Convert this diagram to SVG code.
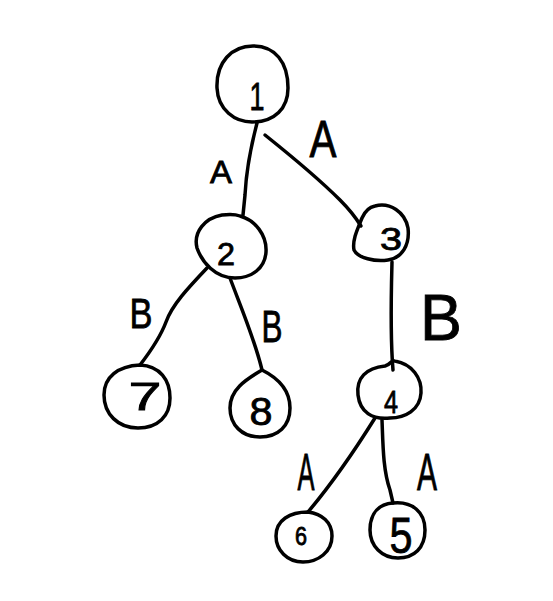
<svg xmlns="http://www.w3.org/2000/svg" width="553" height="601" viewBox="0 0 553 601">
<style>
.s{fill:none;stroke:#000;stroke-width:3.5;stroke-linecap:round;stroke-linejoin:round}
.t{font-family:"Liberation Sans",Arial,sans-serif;fill:#000;text-anchor:middle;stroke:#000;stroke-width:0.8}
</style>
<rect width="553" height="601" fill="#fff"/>
<g id="connectors">
<path class="s" d="M257,123 C250,150 246,175 245,195 L243,215"/>
<path class="s" d="M265,135 C290,155 320,180 340,200 C350,210 356,218 361,226"/>
<path class="s" d="M392,262 C391,300 390,335 393,370"/>
<path class="s" d="M207,268 C188,288 172,305 166,322 C160,338 150,352 140,365"/>
<path class="s" d="M230,278 C240,305 255,340 262,370"/>
<path class="s" d="M375,418 C355,450 335,480 308,512"/>
<path class="s" d="M382,420 C383,445 383,470 390,490 L393,503"/>
<text class="t" x="221" y="183" font-size="32" textLength="22" lengthAdjust="spacingAndGlyphs">A</text>
<text class="t" x="323" y="157" font-size="51" textLength="27" lengthAdjust="spacingAndGlyphs">A</text>
<text class="t" x="141" y="328" font-size="43" textLength="23" lengthAdjust="spacingAndGlyphs">B</text>
<text class="t" x="272" y="342" font-size="44" textLength="21" lengthAdjust="spacingAndGlyphs">B</text>
<text class="t" x="441" y="340" font-size="65" textLength="42" lengthAdjust="spacingAndGlyphs">B</text>
<text class="t" x="306" y="490" font-size="51" textLength="17" lengthAdjust="spacingAndGlyphs">A</text>
<text class="t" x="427" y="490" font-size="51" textLength="20" lengthAdjust="spacingAndGlyphs">A</text>
</g>
<g id="n1"><path class="s" d="M252,122 C235,122 218,110 217,88 C216,62 232,46 253,46 C275,46 288,62 288,88 C288,108 275,122 252,122 Z"/><text class="t" x="257" y="110" font-size="39" textLength="15" lengthAdjust="spacingAndGlyphs">1</text></g>
<g id="n2"><path class="s" d="M240,216 C255,220 267,235 266,252 C265,268 252,278 235,278 C215,278 202,262 197,248 C193,232 205,218 222,215 C230,214 235,214 240,216 Z"/><text class="t" x="226" y="265" font-size="32" textLength="18" lengthAdjust="spacingAndGlyphs">2</text></g>
<g id="n3"><path class="s" d="M375,206 C390,202 405,212 408,228 C410,245 402,258 388,260 C375,262 358,258 354,250 C352,240 358,228 362,218 C365,211 370,207 375,206 Z"/><text class="t" x="391" y="250" font-size="32" textLength="22" lengthAdjust="spacingAndGlyphs">3</text></g>
<g id="n7"><path class="s" d="M140,365 C160,366 170,380 170,398 C170,416 158,428 138,428 C118,428 104,414 104,395 C104,377 118,366 140,365 Z"/><text class="t" x="145" y="410" font-size="39" textLength="33" lengthAdjust="spacingAndGlyphs">7</text></g>
<g id="n8"><path class="s" d="M262,370 C278,378 290,390 290,408 C290,426 278,437 260,437 C242,437 230,425 230,408 C230,390 245,380 262,370 Z"/><text class="t" x="261" y="425" font-size="39" textLength="23" lengthAdjust="spacingAndGlyphs">8</text></g>
<g id="n4"><path class="s" d="M395,361 C412,364 422,378 421,393 C420,410 405,418 390,418 C372,420 360,412 358,395 C356,378 366,368 385,366 C392,364 390,360 395,361 Z"/><text class="t" x="391" y="413" font-size="32" textLength="14" lengthAdjust="spacingAndGlyphs">4</text></g>
<g id="n6"><path class="s" d="M308,512 C322,514 332,522 332,536 C332,552 318,562 303,562 C287,562 276,550 276,536 C276,520 290,512 308,512 Z"/><text class="t" x="301" y="545" font-size="25" textLength="12" lengthAdjust="spacingAndGlyphs">6</text></g>
<g id="n5"><path class="s" d="M393,503 C412,501 425,512 425,530 C425,548 414,558 398,558 C382,558 370,546 370,530 C370,512 380,504 393,503 Z"/><text class="t" x="401" y="553" font-size="50" textLength="23" lengthAdjust="spacingAndGlyphs">5</text></g>
</svg>
